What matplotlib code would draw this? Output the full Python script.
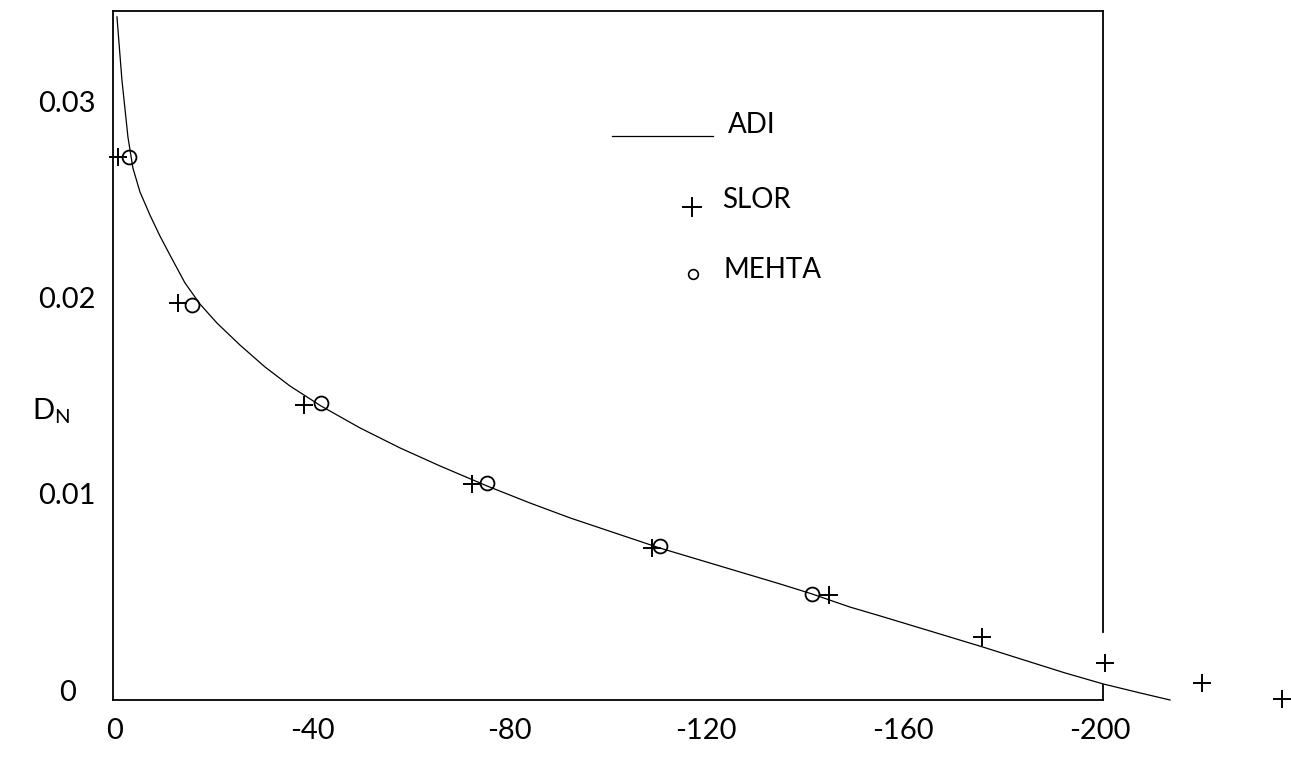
import matplotlib.pyplot as plt

# ADI curve
adi_x = [-0.41, -1.42, -2.64, -3.65, -5.08, -7.11, -9.14, -11.17, -14.21, -17.26,
         -20.71, -25.38, -30.46, -35.53, -41.83, -49.75, -57.87, -65.99, -75.53,
         -84.26, -92.39, -101.52, -110.66, -118.78, -126.90, -135.03, -141.52,
         -149.24, -155.33, -165.48, -176.24, -185.18, -192.89, -200.61, -208.12,
         -214.21]
adi_y = [0.03434, 0.03112, 0.02821, 0.02663, 0.02541, 0.02423, 0.02316, 0.02219,
         0.02077, 0.01969, 0.01872, 0.01760, 0.01648, 0.01551, 0.01449, 0.01337,
         0.01235, 0.01143, 0.01041, 0.00954, 0.00878, 0.00801, 0.00724, 0.00663,
         0.00602, 0.00541, 0.00490, 0.00423, 0.00378, 0.00301, 0.00219, 0.00148,
         0.00087, 0.00031, -0.00015, -0.00051]

# SLOR points
slor_x = [-0.6, -12.8, -38.4, -72.5, -109.0, -145.0, -176.1, -201.0, -220.7, -237.0]
slor_y = [0.0272, 0.01974, 0.01454, 0.01051, 0.00724, 0.00485, 0.00270, 0.00138,
          0.00036, -0.00046]

# MEHTA points
mehta_x = [-2.8, -15.6, -41.8, -75.5, -110.7, -141.5]
mehta_y = [0.0272, 0.01964, 0.01464, 0.01056, 0.00733, 0.00490]

xticks = [0, -40, -80, -120, -160, -200]
yticks = [0, 0.01, 0.02, 0.03]
ylabels = ['0', '0.01', '0.02', '0.03']

plt.rcParams['font.family'] = ['Lato', 'DejaVu Sans']

fig = plt.figure(figsize=(12.91, 7.57), dpi=100)
ax = fig.add_axes([0.0875, 0.0753, 0.7669, 0.9102])

ax.plot(adi_x, adi_y, color='black', lw=0.9, clip_on=False)
ax.plot(slor_x, slor_y, ls='none', marker='+', ms=13, mew=1.4, color='black', clip_on=False)
ax.plot(mehta_x, mehta_y, ls='none', marker='o', ms=10, mew=1.3, mfc='none',
        color='black', clip_on=False)

ax.set_xlim(0.4, -200.6)
ax.set_ylim(-0.00051, 0.03464)

ax.set_xticks(xticks)
ax.set_xticklabels([str(v) for v in xticks])
ax.set_yticks(yticks)
ax.set_yticklabels(ylabels, ha='center')
ax.tick_params(length=0, labelsize=21)
ax.tick_params(axis='x', pad=13)
ax.tick_params(axis='y', pad=33)

for s in ['left', 'bottom', 'top']:
    ax.spines[s].set_linewidth(1.3)
ax.spines['right'].set_visible(False)
# right border is broken where the curve passes
ax.plot([1, 1], [0.0, 0.0212], transform=ax.transAxes, color='black', lw=1.3, clip_on=False)
ax.plot([1, 1], [0.0987, 1.0], transform=ax.transAxes, color='black', lw=1.3, clip_on=False)

ax.text(-0.062, 0.42, r'D$_\mathregular{N}$', transform=ax.transAxes, fontsize=21,
        ha='center', va='center')

# hand drawn key
ax.plot([0.504, 0.606], [0.8186, 0.8186], transform=ax.transAxes, color='black', lw=0.9)
ax.text(0.621, 0.8345, 'ADI', transform=ax.transAxes, fontsize=20, va='center')
ax.plot([0.585], [0.7155], transform=ax.transAxes, marker='+', ms=14, mew=1.4, color='black')
ax.text(0.615, 0.7257, 'SLOR', transform=ax.transAxes, fontsize=20, va='center')
ax.plot([0.586], [0.618], transform=ax.transAxes, marker='o', ms=7, mew=1.2, mfc='none',
        color='black')
ax.text(0.617, 0.624, 'MEHTA', transform=ax.transAxes, fontsize=20, va='center')

fig.savefig('out.png', dpi=100)
